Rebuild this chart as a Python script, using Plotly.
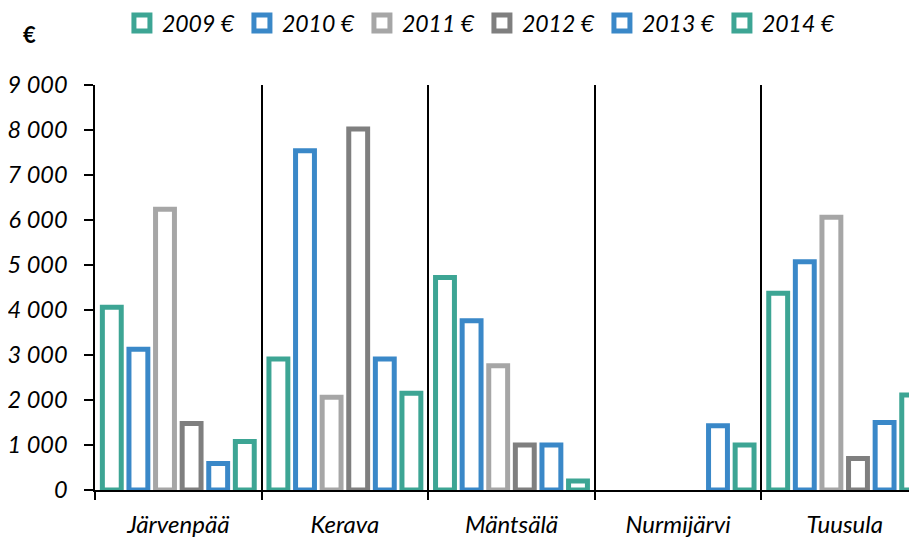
import plotly.graph_objects as go

categories = ["Järvenpää", "Kerava", "Mäntsälä", "Nurmijärvi", "Tuusula"]
series_names = ["2009 €", "2010 €", "2011 €", "2012 €", "2013 €", "2014 €"]
v2009 = [4060, 2910, 4720, None, 4370]
v2010 = [3130, 7540, 3760, None, 5070]
v2011 = [6240, 2060, 2760, None, 6060]
v2012 = [1480, 8020, 1000, None, 700]
v2013 = [590, 2910, 1000, 1430, 1500]
v2014 = [1080, 2150, 200, 1000, 2110]
series_values = [v2009, v2010, v2011, v2012, v2013, v2014]
colors = ["#3DA594", "#3A88C8", "#A6A6A6", "#7F7F7F", "#3A88C8", "#3DA594"]
y_tickvals = [0, 1000, 2000, 3000, 4000, 5000, 6000, 7000, 8000, 9000]
y_ticktext = ["0", "1 000", "2 000", "3 000", "4 000", "5 000", "6 000", "7 000", "8 000", "9 000"]

FONT = "Lato"

fig = go.Figure()
for name, vals, col in zip(series_names, series_values, colors):
    fig.add_trace(go.Bar(
        x=categories, y=vals, name=name, showlegend=False,
        marker=dict(color="white", line=dict(color=col, width=5)),
    ))
# legend entries (hollow squares)
for name, col in zip(series_names, colors):
    fig.add_trace(go.Scatter(
        x=[None], y=[None], name=name, mode="markers",
        marker=dict(symbol="square", size=16, color="white", line=dict(color=col, width=5)),
    ))

# page body has an 8px margin, so figure coords = screen coords - 8
W, H = 909, 531
L, T, R, B = 85, 77, 0, 49
PW, PH = W - L - R, H - T - B

fig.update_layout(
    width=W, height=H,
    margin=dict(l=L, r=R, t=T, b=B),
    paper_bgcolor="white", plot_bgcolor="white",
    barmode="group", bargap=0.042, bargroupgap=0.29,
    font=dict(family=FONT, color="black", size=24),
    showlegend=True,
    legend=dict(
        orientation="h", x=(112 - L) / PW, xanchor="left",
        y=(H - 15) / H, yanchor="middle", yref="container",
        font=dict(family=FONT, size=23, style="italic"),
        entrywidth=75, entrywidthmode="pixels",
        itemclick=False, bgcolor="rgba(0,0,0,0)",
    ),
    xaxis=dict(
        type="category", range=[-0.5, 4.434],
        tickson="boundaries", ticks="outside", ticklen=8, tickcolor="black", tickwidth=1.5,
        showgrid=True, gridcolor="black", gridwidth=1.5,
        showline=True, linecolor="black", linewidth=1.5,
        tickfont=dict(family=FONT, size=24, style="italic"),
        ticklabelstandoff=12,
        layer="below traces",
    ),
    yaxis=dict(
        range=[0, 9000], tickvals=y_tickvals, ticktext=y_ticktext,
        ticks="outside", ticklen=9, tickcolor="black", tickwidth=1.5,
        showgrid=False, zeroline=False,
        showline=True, linecolor="black", linewidth=1.5,
        tickfont=dict(family=FONT, size=23.5, style="italic"),
        ticklabelstandoff=12,
        layer="below traces",
    ),
    annotations=[dict(
        text="<b>€</b>", xref="paper", yref="paper",
        x=(19 - L) / PW, y=(H - B - 27) / PH,
        xanchor="center", yanchor="middle", showarrow=False,
        font=dict(family=FONT, size=22),
    )],
)

fig.write_html("out.html")
